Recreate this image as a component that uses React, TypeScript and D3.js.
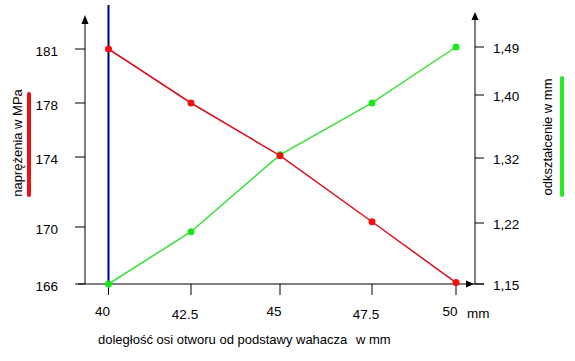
import React, { useEffect, useRef } from 'react';
import * as d3 from 'd3';

const distances = [40, 42.5, 45, 47.5, 50];
const distanceLabels = ['40', '42.5', '45', '47.5', '50'];
const stressValues = [181, 178, 174.1, 170.3, 166.1];
const strainValues = [1.15, 1.21, 1.324, 1.39, 1.49];
const stressTicks = [166, 170, 174, 178, 181];
const stressTickLabels = ['166', '170', '174', '178', '181'];
const strainTicks = [1.15, 1.22, 1.32, 1.4, 1.49];
const strainTickLabels = ['1,15', '1,22', '1,32', '1,40', '1,49'];

const xTitle = 'doległość osi otworu od podstawy wahacza';
const xUnit = 'w mm';
const leftTitle = 'naprężenia w MPa';
const rightTitle = 'odkształcenie w mm';

const App: React.FC = () => {
  const svgRef = useRef<SVGSVGElement>(null);

  useEffect(() => {
    if (!svgRef.current) return;
    const svg = d3.select(svgRef.current);
    svg.selectAll('*').remove();

    const font = 'Arial, "Liberation Sans", sans-serif';
    const axisLeftX = 85;
    const axisRightX = 475;
    const baseY = 284;

    // hand-drawn original: tick spacing is uneven, so piecewise scales
    const x = d3.scaleLinear().domain(distances).range([108.5, 191, 280, 372, 456]);
    const yL = d3.scaleLinear().domain(stressTicks).range([284, 227, 157, 103, 49]);
    const yR = d3.scaleLinear().domain(strainTicks).range([284, 223, 158, 95, 47]);

    const g = svg.append('g').attr('font-family', font).attr('font-size', 13.5);

    // axes lines
    g.append('line').attr('x1', axisLeftX).attr('x2', axisLeftX).attr('y1', 18).attr('y2', baseY)
      .attr('stroke', '#000');
    g.append('line').attr('x1', axisRightX).attr('x2', axisRightX).attr('y1', 15).attr('y2', baseY)
      .attr('stroke', '#000');
    g.append('line').attr('x1', 78).attr('x2', 484).attr('y1', baseY).attr('y2', baseY)
      .attr('stroke', '#000');

    // arrow heads
    g.append('path').attr('d', `M${axisLeftX},15 L${axisLeftX - 3.5},24 L${axisLeftX + 3.5},24 Z`).attr('fill', '#000');
    g.append('path').attr('d', `M${axisRightX},12 L${axisRightX - 3.5},20 L${axisRightX + 3.5},20 Z`).attr('fill', '#000');
    g.append('path').attr('d', `M474,${baseY} L466,${baseY - 3.5} L466,${baseY + 3.5} Z`).attr('fill', '#000');

    // left ticks
    stressTicks.forEach((t, i) => {
      g.append('line').attr('x1', axisLeftX - 10).attr('x2', axisLeftX)
        .attr('y1', yL(t)).attr('y2', yL(t)).attr('stroke', '#000');
      g.append('text').attr('x', 58).attr('y', yL(t) + 7).attr('text-anchor', 'end')
        .attr('fill', '#000').text(stressTickLabels[i]);
    });

    // right ticks
    strainTicks.forEach((t, i) => {
      g.append('line').attr('x1', axisRightX).attr('x2', axisRightX + 9)
        .attr('y1', yR(t)).attr('y2', yR(t)).attr('stroke', '#000');
      g.append('text').attr('x', 493).attr('y', yR(t) + 5.5).attr('fill', '#000')
        .text(strainTickLabels[i]);
    });

    // x ticks
    distances.forEach((d, i) => {
      g.append('line').attr('x1', x(d)).attr('x2', x(d)).attr('y1', baseY).attr('y2', baseY + 11)
        .attr('stroke', '#000');
      g.append('text').attr('x', x(d) - 6).attr('y', i % 2 ? 319 : 316).attr('text-anchor', 'middle')
        .attr('fill', '#000').text(distanceLabels[i]);
    });
    g.append('text').attr('x', 467).attr('y', 318).attr('fill', '#000').text('mm');

    // axis titles
    const titles = g.append('g').attr('font-size', 13);
    titles.append('text').attr('x', 98).attr('y', 344).attr('fill', '#000').text(xTitle);
    titles.append('text').attr('x', 356).attr('y', 344).attr('fill', '#000').text(xUnit);

    titles.append('text').attr('transform', 'translate(22,143) rotate(-90)').attr('text-anchor', 'middle')
      .attr('fill', '#000').text(leftTitle);
    g.append('line').attr('x1', 29).attr('x2', 29).attr('y1', 94).attr('y2', 195)
      .attr('stroke', '#ee1111').attr('stroke-width', 4).attr('stroke-linecap', 'round');

    titles.append('text').attr('transform', 'translate(552,137) rotate(-90)').attr('text-anchor', 'middle')
      .attr('fill', '#000').text(rightTitle);
    g.append('line').attr('x1', 562).attr('x2', 562).attr('y1', 78).attr('y2', 195)
      .attr('stroke', '#22ee22').attr('stroke-width', 4).attr('stroke-linecap', 'round');

    // blue marker line at first distance
    g.append('line').attr('x1', x(distances[0])).attr('x2', x(distances[0]))
      .attr('y1', 5).attr('y2', baseY).attr('stroke', '#000080').attr('stroke-width', 2);

    // series
    const lineL = d3.line<number>().x((_, i) => x(distances[i])).y(v => yL(v));
    const lineR = d3.line<number>().x((_, i) => x(distances[i])).y(v => yR(v));

    g.append('path').datum(strainValues).attr('fill', 'none').attr('stroke', '#3adf3a')
      .attr('stroke-width', 1.5).attr('d', lineR);
    g.append('path').datum(stressValues).attr('fill', 'none').attr('stroke', '#d8101e')
      .attr('stroke-width', 1.5).attr('d', lineL);

    g.selectAll('circle.s').data(strainValues).enter().append('circle')
      .attr('cx', (_, i) => x(distances[i])).attr('cy', v => yR(v)).attr('r', 3.5).attr('fill', '#1ee61e');
    g.selectAll('circle.p').data(stressValues).enter().append('circle')
      .attr('cx', (_, i) => x(distances[i])).attr('cy', v => yL(v)).attr('r', 3.5).attr('fill', '#f01010');
  }, []);

  return (
    <svg ref={svgRef} width={575} height={361}
      style={{ position: 'absolute', left: 0, top: 0, background: '#fff' }} />
  );
};

export default App;
